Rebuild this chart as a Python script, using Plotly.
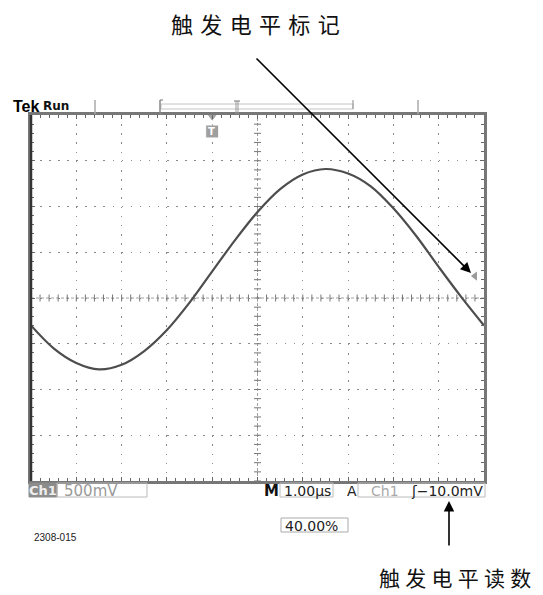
import numpy as np
import plotly.graph_objects as go

# ---------------- data ----------------
time_us = [-4.0, -3.5, -3.0, -2.5, -2.0, -1.5, -1.0, -0.5, 0.0, 0.5, 1.0,
           1.5, 2.0, 2.5, 3.0, 3.5, 4.0, 4.5, 5.0, 5.5, 6.0]
ch1_volts = [-0.30, -0.55, -0.71, -0.78, -0.73, -0.58, -0.35, -0.05, 0.29, 0.63, 0.94,
             1.19, 1.35, 1.41, 1.36, 1.22, 0.98, 0.68, 0.34, 0.01, -0.30]
x_range = [-4, 6]          # 1.00 us/div, trigger at 40 %
y_range = [-2, 2]          # 500 mV/div, 8 divisions
trigger_pos_us = 0.0
ch1_ground_v = 0.25
trigger_level_v = 0.24     # -10.0 mV relative to ground
readout_ch = "Ch1"
readout_volts = "500mV"
readout_time = "1.00µs"
readout_trig = "ʃ−10.0mV"
readout_pos = "40.00%"
fig_id = "2308-015"
label_top = "触\u2004发\u2004电\u2004平\u2004标\u2004记"
label_bottom = "触\u2005发\u2005电\u2005平\u2005读\u2005数"

W, H = 543, 595
L, R, T, B = 31, 484, 115, 481


def px(x):
    return (x - L) / (R - L)


def py(y):
    return (B - y) / (B - T)


fig = go.Figure()

# centre graticule lines with small ticks
cx = np.arange(x_range[0], x_range[1] + 1e-9, 0.2)
fig.add_trace(go.Scatter(x=cx, y=np.zeros_like(cx), mode="lines+markers",
                         line=dict(color="#a0a0a0", width=1, dash="3px,2px"),
                         marker=dict(symbol="line-ns", size=5, line=dict(color="#777", width=1)),
                         hoverinfo="skip", showlegend=False))
cy = np.arange(y_range[0], y_range[1] + 1e-9, 0.1)
fig.add_trace(go.Scatter(x=np.full_like(cy, 1.0), y=cy, mode="lines+markers",
                         line=dict(color="#a0a0a0", width=1, dash="3px,2px"),
                         marker=dict(symbol="line-ew", size=5, line=dict(color="#777", width=1)),
                         hoverinfo="skip", showlegend=False))

# waveform
fig.add_trace(go.Scatter(x=time_us, y=ch1_volts, mode="lines",
                         line=dict(color="#4d4d4d", width=2.2, shape="spline", smoothing=1.0),
                         showlegend=False))

# trigger level marker (right edge)
fig.add_trace(go.Scatter(x=[5.80], y=[trigger_level_v], mode="markers",
                         marker=dict(symbol="triangle-left", size=8, color="#9a9a9a"),
                         cliponaxis=False, showlegend=False, hoverinfo="skip"))
# ch1 ground marker (left edge)
fig.add_trace(go.Scatter(x=[-4.22, -4.04], y=[ch1_ground_v, ch1_ground_v], mode="markers",
                         marker=dict(symbol=["square", "triangle-right"], size=[15, 7],
                                     color="#6e6e6e"),
                         cliponaxis=False, showlegend=False, hoverinfo="skip"))
# trigger position marker (top)
fig.add_trace(go.Scatter(x=[trigger_pos_us, trigger_pos_us], y=[1.82, 1.98], mode="markers",
                         marker=dict(symbol=["square", "triangle-down"], size=[13, 9],
                                     color="#777"),
                         cliponaxis=False, showlegend=False, hoverinfo="skip"))

shapes = []


def box(x0, x1, y0, y1, line="#bbbbbb", fill=None, w=1):
    shapes.append(dict(type="rect", xref="paper", yref="paper",
                       x0=px(x0), x1=px(x1), y0=py(y1), y1=py(y0),
                       line=dict(color=line, width=w),
                       fillcolor=fill if fill else "rgba(0,0,0,0)"))


def seg(x0, y0, x1, y1, color="#aaaaaa", w=1.5):
    shapes.append(dict(type="line", xref="paper", yref="paper",
                       x0=px(x0), x1=px(x1), y0=py(y0), y1=py(y1),
                       line=dict(color=color, width=w)))


# top status bar
seg(95, 100, 95, 114)
seg(418, 100, 418, 114)
box(161, 353, 104, 109, line="#c4c4c4")
seg(160, 100, 160, 114, color="#888", w=1.5)
seg(160, 100, 163, 100, color="#888", w=1.2)
seg(160, 114, 163, 114, color="#888", w=1.2)
seg(353, 100, 353, 109, color="#999", w=1.2)
seg(234, 101, 240, 101, color="#888", w=1.2)
seg(236, 101, 236, 114, color="#999", w=1)
seg(238, 101, 238, 114, color="#999", w=1)
# darker left border
seg(31, 115, 31, 481, color="#333", w=2.5)

# readout boxes
box(29, 57, 483, 497, line="#8c8c8c", fill="#8c8c8c")
box(57, 147, 483, 497)
box(280, 333, 483, 497)
box(358, 485, 483, 497)
box(281, 348, 518, 532, line="#aaaaaa")

ann = []


def txt(s, x, y, size=14, color="#111", xanchor="left", family="DejaVu Sans", bold=False):
    ann.append(dict(text=f"<b>{s}</b>" if bold else s, xref="paper", yref="paper",
                    x=px(x), y=py(y), xanchor=xanchor, yanchor="middle", showarrow=False,
                    font=dict(family=family, size=size, color=color)))


txt("Tek", 11, 106.5, size=16, family="Liberation Sans", bold=True, color="#000")
txt("Run", 41, 106, size=12, family="DejaVu Sans", bold=True, color="#111")
txt("1", 21, 275.5, size=10, color="#fff", xanchor="center", bold=True)
txt("T", 211, 131, size=10, color="#fff", xanchor="center", bold=True)

txt(readout_ch, 43, 490.5, size=13, color="#eeeeee", xanchor="center", bold=True)
txt(readout_volts, 62, 490.5, size=15, color="#9a9a9a")
txt("M", 271, 490.5, size=15, color="#111", xanchor="center", bold=True)
txt(readout_time, 282, 490.5, size=14, color="#222")
txt("A", 352, 490.5, size=14, color="#222", xanchor="center")
txt(readout_ch, 369, 490.5, size=14, color="#aaaaaa")
txt(readout_trig, 485, 490.5, size=14, color="#222", xanchor="right")
txt(readout_pos, 283, 525.5, size=14, color="#222")
txt(fig_id, 32, 537, size=10, family="Liberation Sans Narrow, Liberation Sans", color="#222")

txt(label_top, 255, 23, size=22, family="Noto Sans CJK SC", color="#111", xanchor="center")
txt(label_bottom, 455, 577, size=21, family="Noto Sans CJK SC", color="#111", xanchor="center")

# pointer arrows
ann.append(dict(text="", xref="paper", yref="paper", x=px(471), y=py(273),
                ax=255 - 471, ay=57 - 273, showarrow=True, arrowhead=2, arrowsize=1.3,
                arrowwidth=1.6, arrowcolor="#000", standoff=0))
ann.append(dict(text="", xref="paper", yref="paper", x=px(449), y=py(501),
                ax=0, ay=547 - 501, showarrow=True, arrowhead=2, arrowsize=1.3,
                arrowwidth=1.6, arrowcolor="#000", standoff=0))

fig.update_layout(
    width=W, height=H, autosize=False,
    margin=dict(l=L, r=W - R, t=T, b=H - B, pad=0),
    paper_bgcolor="white", plot_bgcolor="white",
    shapes=shapes, annotations=ann, showlegend=False,
    xaxis=dict(range=x_range, dtick=1, tick0=0, showgrid=True, gridcolor="#8a8a8a",
               gridwidth=1.3, griddash="1.6px,7.55px", ticks="inside", ticklen=4,
               tickcolor="#666", showticklabels=False, showline=True, linecolor="#777",
               linewidth=2.5, mirror="ticks", zeroline=False, fixedrange=True,
               minor=dict(dtick=0.2, ticks="inside", ticklen=3, tickcolor="#666",
                          showgrid=False)),
    yaxis=dict(range=y_range, dtick=0.5, tick0=0, showgrid=True, gridcolor="#8a8a8a",
               gridwidth=1.3, griddash="1.6px,7.46px", ticks="inside", ticklen=4,
               tickcolor="#666", showticklabels=False, showline=True, linecolor="#777",
               linewidth=2.5, mirror="ticks", zeroline=False, fixedrange=True,
               minor=dict(dtick=0.1, ticks="inside", ticklen=3, tickcolor="#666",
                          showgrid=False)),
)

fig.write_html("out.html", config={"displayModeBar": False},
               post_script="document.body.style.margin='0';")
